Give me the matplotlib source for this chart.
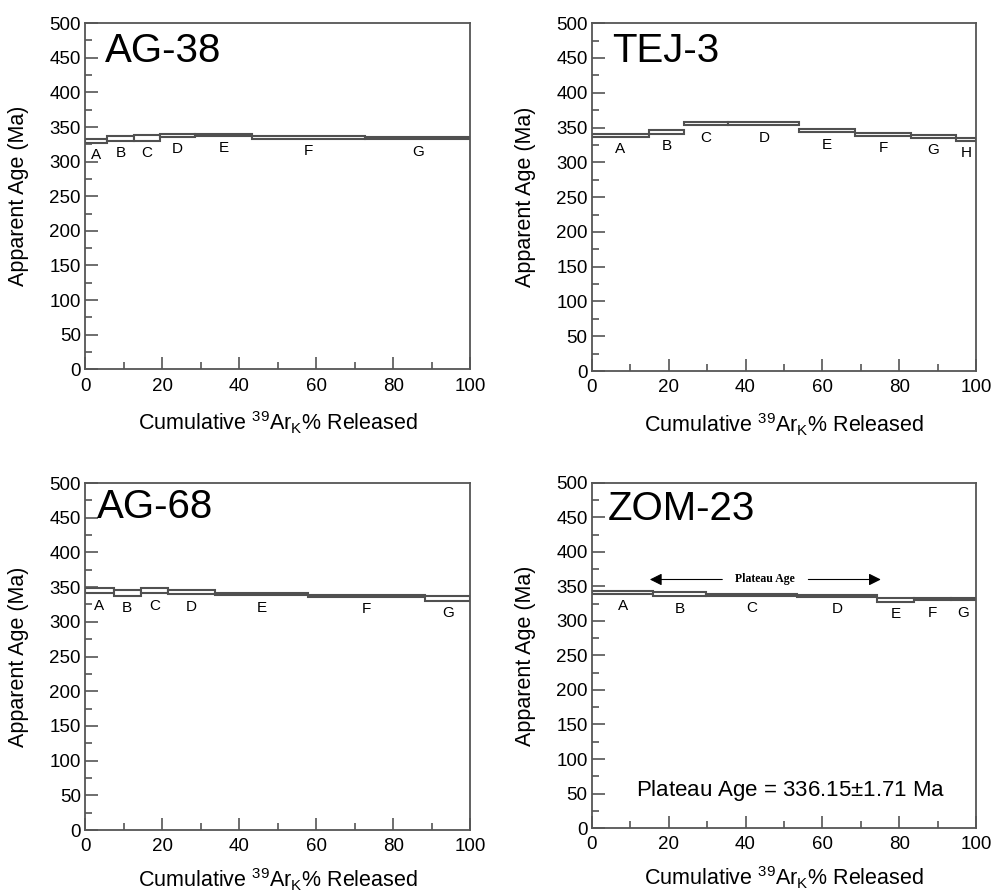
import matplotlib
matplotlib.use('Agg')
import matplotlib.pyplot as plt
from matplotlib.patches import Rectangle
from matplotlib.ticker import MultipleLocator

#%% data
samples = ['AG-38', 'TEJ-3', 'AG-68', 'ZOM-23']
steps = {
    'AG-38':  ['A', 'B', 'C', 'D', 'E', 'F', 'G'],
    'TEJ-3':  ['A', 'B', 'C', 'D', 'E', 'F', 'G', 'H'],
    'AG-68':  ['A', 'B', 'C', 'D', 'E', 'F', 'G'],
    'ZOM-23': ['A', 'B', 'C', 'D', 'E', 'F', 'G'],
}
# cumulative 39ArK % at the right end of each step
cum_release = {
    'AG-38':  [5.6, 12.8, 19.5, 28.6, 43.3, 72.7, 100],
    'TEJ-3':  [14.8, 24.0, 35.5, 54.0, 68.5, 83.0, 94.8, 100],
    'AG-68':  [7.4, 14.5, 21.6, 33.8, 57.8, 88.3, 100],
    'ZOM-23': [16.0, 29.7, 53.5, 74.1, 83.9, 93.4, 100],
}
app_age = {
    'AG-38':  [330.2, 333.4, 334.5, 338.0, 339.0, 335.0, 333.9],
    'TEJ-3':  [338.5, 343.7, 355.6, 355.6, 345.5, 340.3, 337.5, 333.3],
    'AG-68':  [344.6, 341.7, 344.6, 343.0, 340.3, 337.6, 333.6],
    'ZOM-23': [341.3, 338.7, 338.1, 336.5, 330.4, 331.7, 331.5],
}
age_err = {
    'AG-38':  [3.2, 3.3, 4.5, 2.2, 1.5, 1.6, 1.8],
    'TEJ-3':  [1.6, 2.7, 2.2, 2.2, 2.2, 2.2, 2.2, 2.4],
    'AG-68':  [3.6, 4.1, 3.6, 3.0, 1.7, 1.4, 3.2],
    'ZOM-23': [1.7, 2.9, 1.5, 1.7, 2.5, 1.7, 1.7],
}
plateau_from, plateau_to, plateau_y = 15.1, 75.2, 360
plateau_text = 'Plateau Age = 336.15$\\pm$1.71 Ma'

#%% style
plt.rcParams['font.family'] = 'Liberation Sans'
plt.rcParams['mathtext.fontset'] = 'custom'
plt.rcParams['mathtext.rm'] = 'Liberation Sans'
plt.rcParams['mathtext.it'] = 'Liberation Sans:italic'
plt.rcParams['xtick.direction'] = 'in'
plt.rcParams['ytick.direction'] = 'in'
axcol = '#555555'

fig = plt.figure(figsize=(9.93, 8.92), dpi=100)
positions = [
    [0.0856, 0.586, 0.388, 0.388],
    [0.596, 0.584, 0.387, 0.390],
    [0.0856, 0.0695, 0.388, 0.389],
    [0.596, 0.0717, 0.387, 0.387],
]
title_xy = {'AG-38': (5.2, 444), 'TEJ-3': (5.2, 444), 'AG-68': (3.0, 449), 'ZOM-23': (4.2, 446)}

for i, (name, pos) in enumerate(zip(samples, positions)):
    ax = fig.add_axes(pos)
    left = 0
    for lab, right, age, err in zip(steps[name], cum_release[name], app_age[name], age_err[name]):
        ax.add_patch(Rectangle((left, age - err), right - left, 2 * err,
                               facecolor='white', edgecolor='#505050', linewidth=1.5))
        ax.annotate(lab, xy=((left + right) / 2, age - err), xytext=(0, -4),
                    textcoords='offset points', ha='center', va='top', fontsize=11)
        left = right

    ax.set_xlim(0, 100)
    ax.set_ylim(0, 500)
    ax.xaxis.set_major_locator(MultipleLocator(20))
    ax.xaxis.set_minor_locator(MultipleLocator(10))
    ax.yaxis.set_major_locator(MultipleLocator(50))
    ax.yaxis.set_minor_locator(MultipleLocator(25))
    ax.tick_params(which='major', length=9, width=1.2, color=axcol, labelsize=13.5)
    ax.tick_params(which='minor', length=5, width=1.2, color=axcol)
    ax.tick_params(axis='x', pad=6)
    ax.tick_params(axis='y', pad=3)
    for sp in ax.spines.values():
        sp.set_color(axcol)
        sp.set_linewidth(1.3)

    ax.text(title_xy[name][0], title_xy[name][1], name, fontsize=29, va='baseline', ha='left')
    ax.set_ylabel('Apparent Age (Ma)', fontsize=15.5)
    ax.yaxis.set_label_coords(-0.145, 0.5)
    ax.set_xlabel('Cumulative $^{39}$Ar$_{\\rm K}$% Released', fontsize=15.5,
                  labelpad=11 if i < 2 else 8)

    if name == 'ZOM-23':
        mid = (plateau_from + plateau_to) / 2
        for x_end in (plateau_from, plateau_to):
            x_start = mid - 11.2 if x_end < mid else mid + 11.2
            ax.annotate('', xy=(x_end, plateau_y), xytext=(x_start, plateau_y),
                        arrowprops=dict(arrowstyle='-|>', color='black', lw=0.8,
                                        mutation_scale=18, shrinkA=0, shrinkB=0))
        ax.text(mid, plateau_y, 'Plateau Age', ha='center', va='center', fontsize=8.5,
                family='Liberation Serif', fontweight='bold')
        ax.text(51.7, 55, plateau_text, ha='center', va='center', fontsize=16)

plt.savefig('out.png', dpi=100)
